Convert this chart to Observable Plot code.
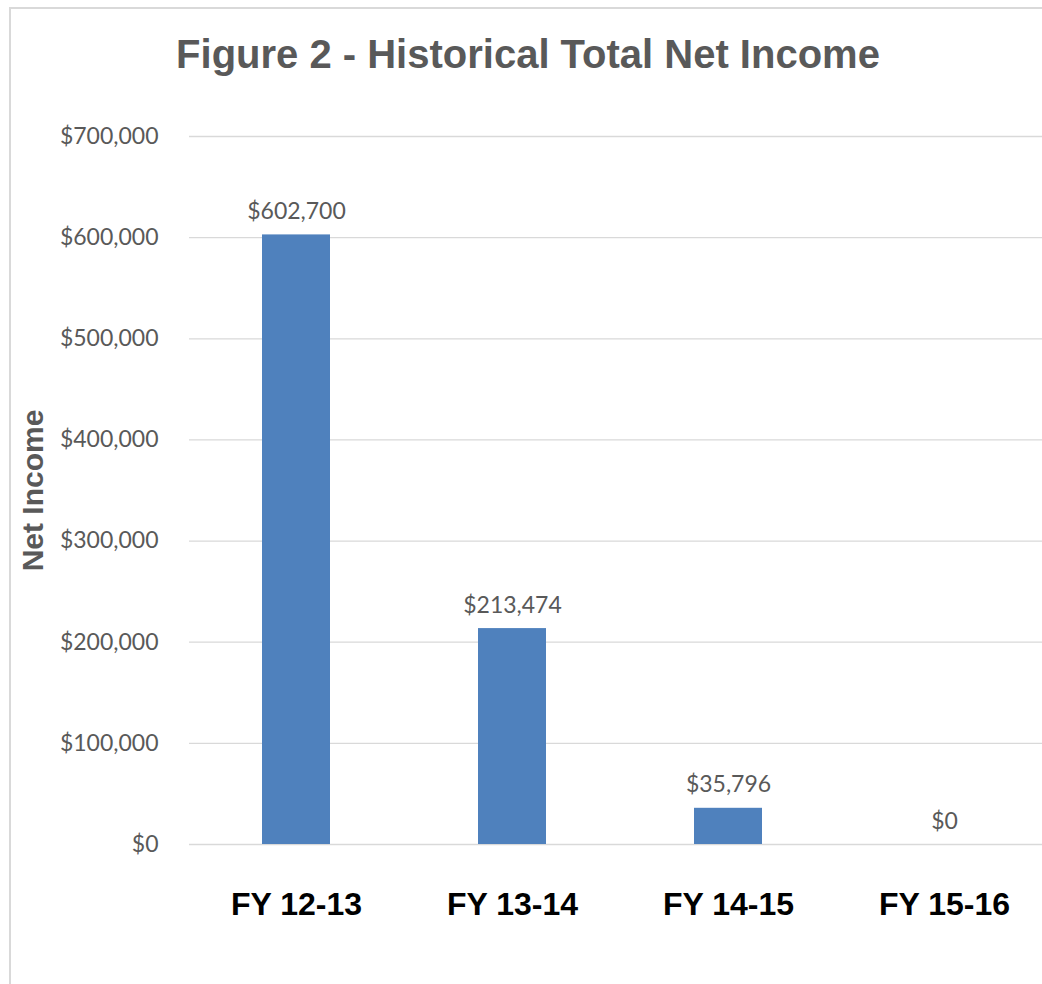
<!DOCTYPE html>
<html>
<head>
<meta charset="utf-8">
<script src="https://cdn.jsdelivr.net/npm/d3@7"></script>
<script src="https://cdn.jsdelivr.net/npm/@observablehq/plot@0.6"></script>
<style>
  html, body { margin: 0; padding: 0; background: #fff; }
  #wrap { position: relative; width: 1042px; height: 984px; overflow: hidden; }
  #frame { position: absolute; left: 9px; top: 7px; right: -10px; bottom: -10px;
           border-left: 2px solid #d9d9d9; border-top: 2px solid #d9d9d9; }
  #title { position: absolute; left: 0; top: 34px; width: 1056px; text-align: center;
           font-family: "Liberation Sans", Arial, sans-serif; font-weight: bold;
           font-size: 40px; line-height: 40px; color: #595959; }
  #chart { position: absolute; left: 0; top: 0; }
</style>
</head>
<body>
<div id="wrap">
  <div id="frame"></div>
  <div id="chart"></div>
  <div id="title">Figure 2 - Historical Total Net Income</div>
</div>
<script>
const categories = ["FY 12-13", "FY 13-14", "FY 14-15", "FY 15-16"];
const netIncome = [602700, 213474, 35796, 0];
const yTicks = [0, 100000, 200000, 300000, 400000, 500000, 600000, 700000];
const yLabel = "Net Income";

const data = categories.map((c, i) => ({ category: c, value: netIncome[i] }));
const money = d => "$" + d3.format(",")(d);

const chart = Plot.plot({
  width: 1042,
  height: 984,
  marginTop: 136,
  marginBottom: 140,
  marginLeft: 189,
  marginRight: 0,
  style: { background: "transparent", overflow: "visible" },
  x: { domain: categories, range: [188, 1052], paddingInner: 0.685, paddingOuter: 0.3425, label: null },
  y: { domain: [0, 700000], label: null },
  marks: [
    Plot.ruleY(yTicks, { stroke: "#d9d9d9", strokeWidth: 1.3 }),
    Plot.barY(data, { x: "category", y: "value", fill: "#4f81bd" }),
    Plot.text(data, {
      x: "category", y: "value", text: d => money(d.value),
      lineAnchor: "bottom", dy: -16,
      fontFamily: "Lato, 'Open Sans', sans-serif", fontSize: 23, fill: "#595959"
    }),
    Plot.axisY({
      ticks: yTicks, tickSize: 0, tickPadding: 31, tickFormat: money, label: null,
      fontFamily: "Lato, 'Open Sans', sans-serif", fontSize: 23, color: "#595959"
    }),
    Plot.axisY({
      ticks: [], label: yLabel, labelAnchor: "center", labelArrow: "none", labelOffset: 168,
      fontFamily: "'Liberation Sans', Arial, sans-serif", fontSize: 30, fontWeight: "bold", color: "#595959"
    }),
    Plot.axisX({
      tickSize: 0, tickPadding: 48, label: null,
      fontFamily: "'Liberation Sans', Arial, sans-serif", fontSize: 32, fontWeight: "bold", color: "#000000"
    })
  ]
});
document.getElementById("chart").appendChild(chart);
</script>
</body>
</html>
